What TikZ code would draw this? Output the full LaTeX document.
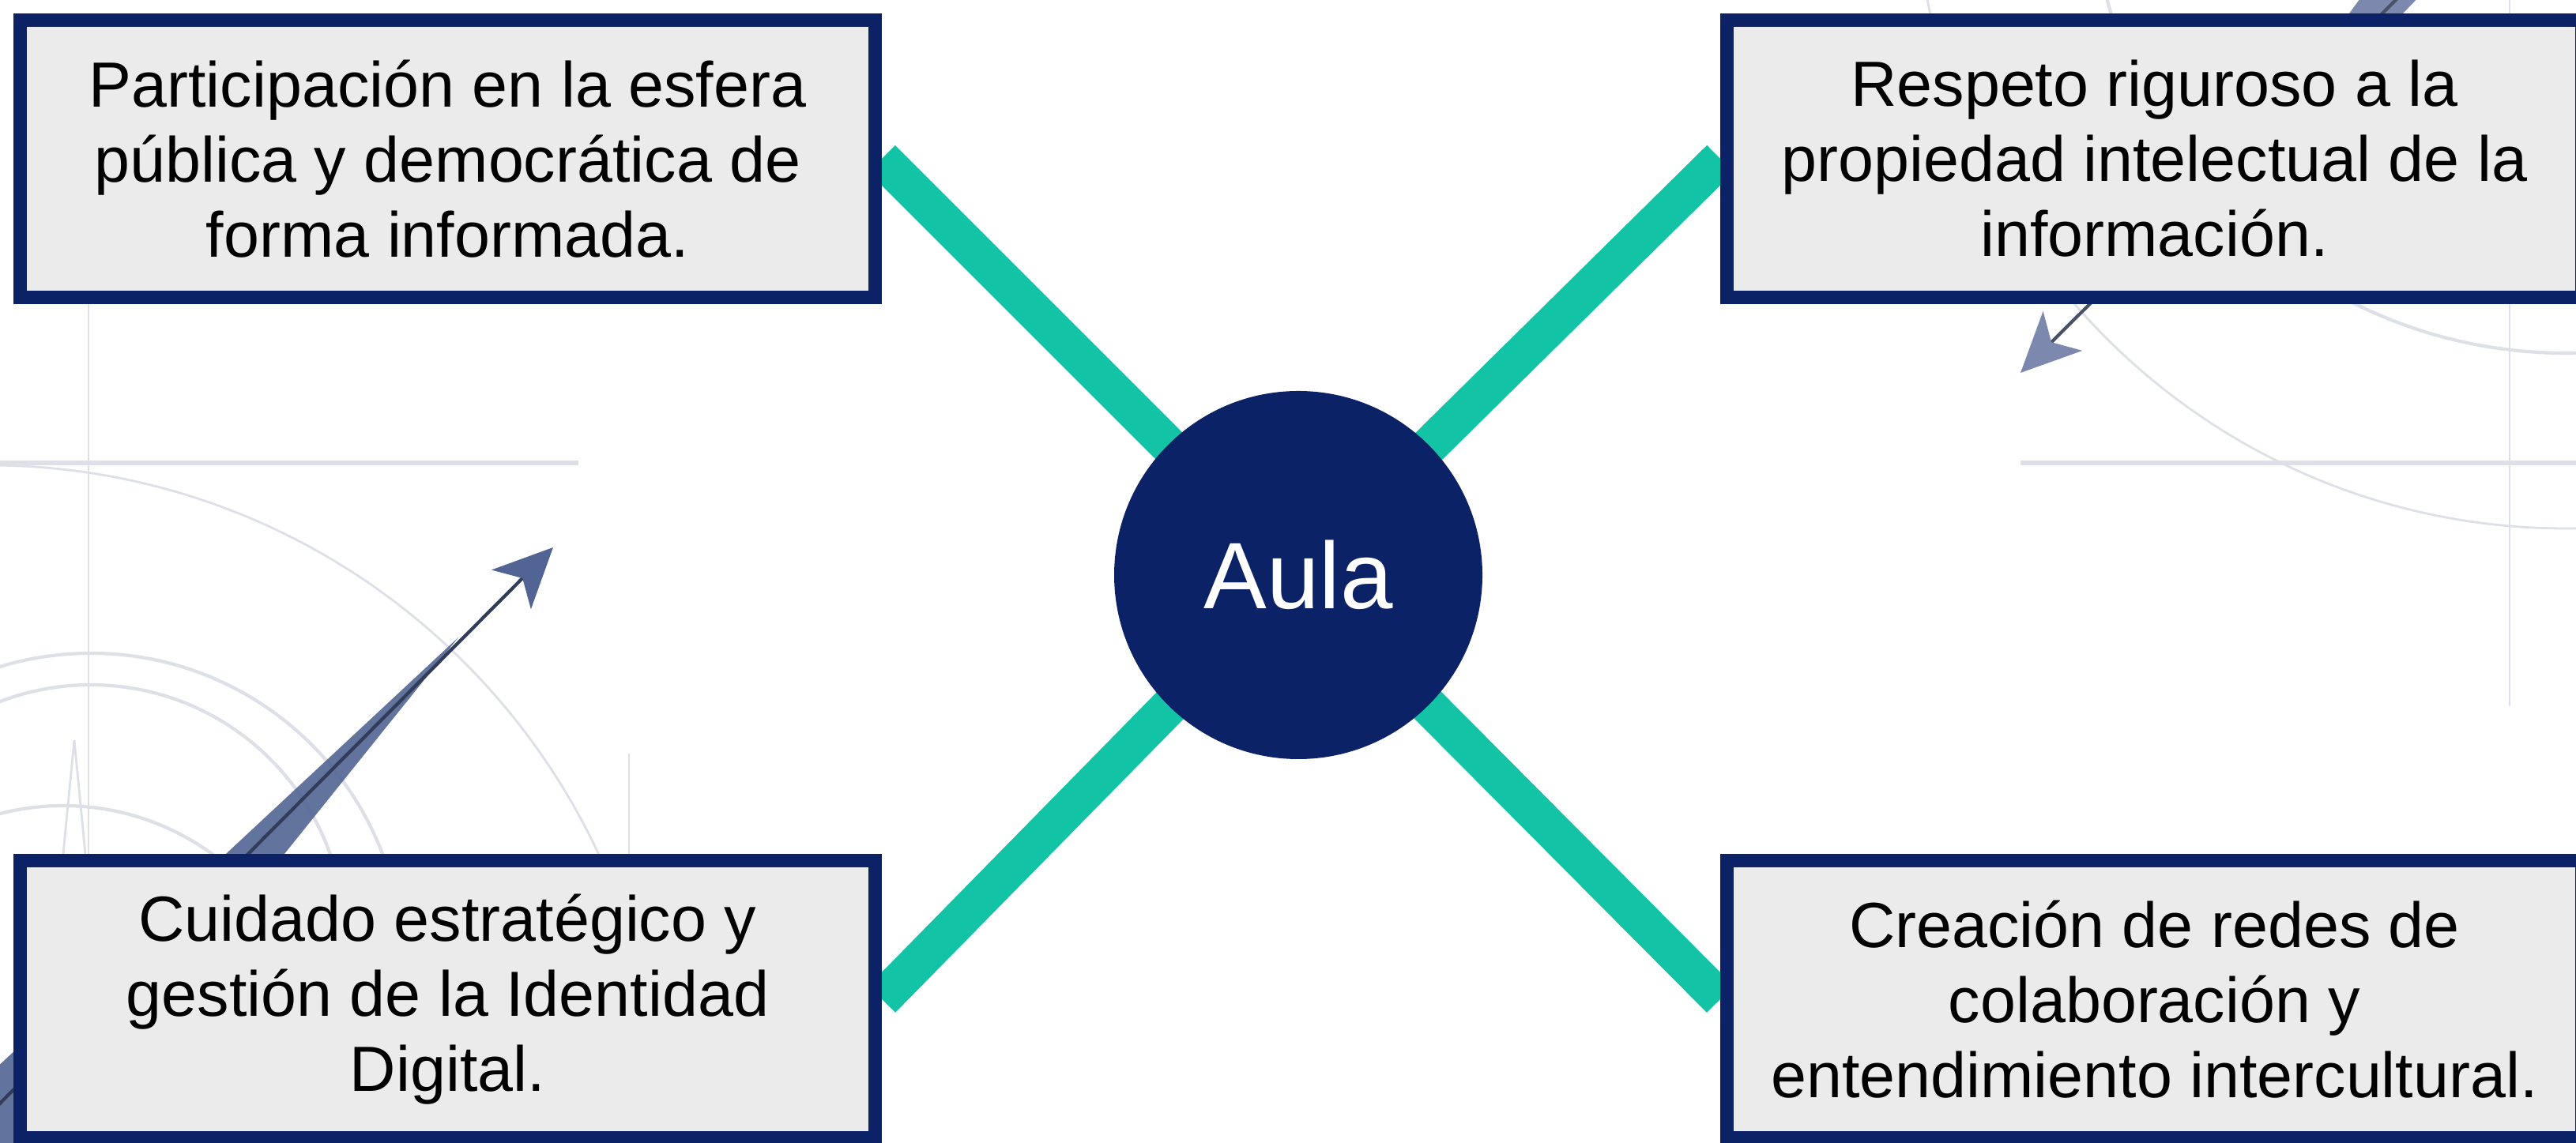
\documentclass[tikz,border=0pt]{standalone}
\usepackage{fontspec}
\setmainfont{Liberation Sans}
\usetikzlibrary{backgrounds, arrows.meta}

\definecolor{marino}{RGB}{11,34,102}
\definecolor{verde}{RGB}{18,196,165}
\definecolor{gris}{RGB}{235,235,235}
\definecolor{fondo}{RGB}{222,224,231}
\definecolor{flechaosc}{RGB}{82,100,148}
\definecolor{flechaclara}{RGB}{124,136,174}

\begin{document}
\begin{tikzpicture}
            \tikzstyle{caja}=[draw=marino, line width=0.17cm, fill=gris, minimum width=10.82cm, minimum height=3.51cm, inner sep=0pt, align=center, text=black, font=\fontsize{23}{27}\selectfont]
            \tikzstyle{centro}=[circle, fill=marino, minimum size=4.66cm, inner sep=0pt, text=white, font=\fontsize{34}{40}\selectfont]
            \tikzstyle{enlace}=[draw=verde, line width=0.48cm]
            \tikzstyle{trazo}=[draw=fondo, line width=0.8pt]
            \useasboundingbox (0,0) rectangle (32.6,14.47);
            \node[centro] (aula) at (16.43,7.19) {Aula};
            \node[caja] (part) at (5.665,12.46) {Participación en la esfera\\pública y democrática de\\forma informada.};
            \node[caja] (resp) at (27.265,12.46) {Respeto riguroso a la\\propiedad intelectual de la\\información.};
            \node[caja] (cuid) at (5.665,1.82) {Cuidado estratégico y\\gestión de la Identidad\\Digital.};
            \node[caja] (crea) at (27.265,1.82) {Creación de redes de\\colaboración y\\entendimiento intercultural.};
            \coordinate (puntaA) at (7.00,7.54);
            \coordinate (colaA) at (-0.4,0.1);
            \coordinate (puntaB) at (25.57,9.75);
            \coordinate (colaB) at (30.45,14.6);
            \begin{scope}[on background layer]
                \fill[white] (0,0) rectangle (32.6,14.47);
                \clip (0,0) rectangle (32.6,14.47);
                % trazos de fondo
                \draw[trazo] (1.12,10.62) -- (1.12,3.66);
                \draw[trazo, line width=1.6pt] (0,8.61) -- (7.32,8.61);
                \draw[trazo] (-0.15,0.06) circle (8.52);
                \draw[trazo, line width=1.2pt] (1.15,2.25) circle (3.95);
                \draw[trazo, line width=1.2pt] (1.15,2.59) circle (3.21);
                \draw[trazo, line width=1.2pt] (0.8,1.06) circle (3.21);
                \draw[trazo] (0.80,3.66) -- (0.94,5.1) -- (1.08,3.66);
                \draw[trazo] (7.96,4.93) -- (7.96,3.66);
                \draw[trazo] (31.76,14.47) -- (31.76,5.53);
                \draw[trazo, line width=1.6pt] (25.57,8.61) -- (32.6,8.61);
                \draw[trazo] (32.47,16.0) circle (8.22);
                \draw[trazo, line width=1.2pt] (32.47,16.0) circle (6.0);
                % flechas
                \fill[flechaosc, opacity=0.9] (5.80,6.40) -- (-1.39,-0.3) -- (0.42,-0.3) -- cycle;
                \draw[flechaosc!60!black, line width=1.2pt, -{Stealth[length=0.75cm, width=0.7cm, inset=0.2cm, color=flechaosc]}] (colaA) -- (puntaA);
                \fill[flechaclara] (27.6,11.4) -- (29.95,14.6) -- (30.7,14.6) -- cycle;
                \draw[flechaclara!60!black, line width=1.2pt, -{Stealth[length=0.75cm, width=0.7cm, inset=0.2cm, color=flechaclara]}] (colaB) -- (puntaB);
                \end{scope}
            \begin{scope}[on background layer]
                \draw[enlace] (aula.center) -- (part.east);
                \draw[enlace] (aula.center) -- (resp.west);
                \draw[enlace] (aula.center) -- (cuid.east);
                \draw[enlace] (aula.center) -- (crea.west);
            \end{scope}
\end{tikzpicture}
\end{document}
